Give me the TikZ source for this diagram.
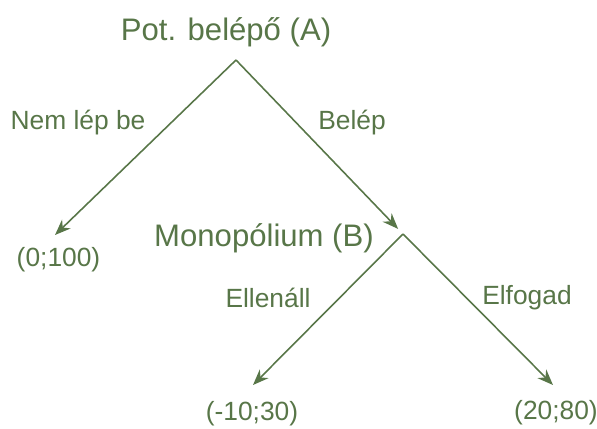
\documentclass[tikz,border=0pt]{standalone}
\usepackage{fontspec}
\setmainfont{Liberation Sans}
\usetikzlibrary{arrows.meta}

\definecolor{treegreen}{RGB}{88,118,72}

\begin{document}
\begin{tikzpicture}[
    every node/.style={text=treegreen, inner sep=1pt},
    player/.style={font=\fontsize{17.7}{20}\selectfont},
    move/.style={font=\fontsize{15}{18}\selectfont},
    payoff/.style={font=\fontsize{15}{18}\selectfont},
    branch/.style={draw=treegreen, line width=0.9pt, -{Stealth[length=9pt,width=7pt]}}
]
    \useasboundingbox (0,0) rectangle (11.94,8.56);

    % players
    \node[player] (titleA) at (4.52,7.92) {Pot. belépő (A)};
    \node[player] (titleB) at (5.28,3.80) {Monopólium (B)};
    \coordinate (A) at (4.72,7.36);
    \coordinate (B) at (8.06,3.88);

    % end points
    \coordinate (tipout) at (1.10,3.86);
    \coordinate (tipres) at (5.06,0.86);
    \coordinate (tipacc) at (11.06,0.86);

    % payoffs
    \node[payoff] (out) at (1.17,3.36) {(0;100)};
    \node[payoff] (res) at (5.04,0.28) {(-10;30)};
    \node[payoff] (acc) at (11.12,0.30) {(20;80)};

    % moves
    \node[move] (nemlep) at (1.56,6.10) {Nem lép be};
    \node[move] (belep) at (7.04,6.10) {Belép};
    \node[move] (ellen) at (5.36,2.60) {Ellenáll};
    \node[move] (elfog) at (10.54,2.60) {Elfogad};

    \draw[branch] (A) -- (tipout);
    \draw[branch, shorten >=4pt] (A) -- (B);
    \draw[branch] (B) -- (tipres);
    \draw[branch] (B) -- (tipacc);
\end{tikzpicture}
\end{document}
